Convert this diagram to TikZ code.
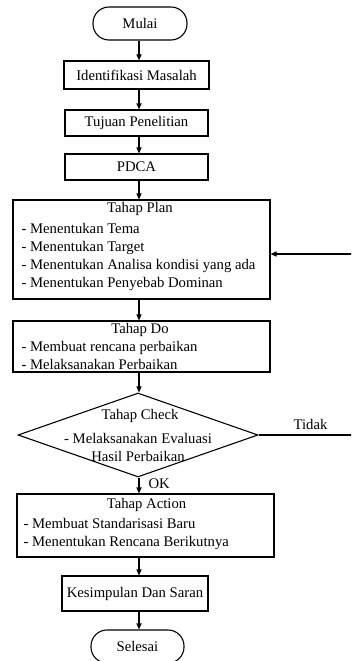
\documentclass[tikz,border=0pt]{standalone}
\usepackage{fontspec}
\setmainfont{Liberation Serif}
\usetikzlibrary{arrows.meta,calc,shapes.geometric}

\begin{document}
\begin{tikzpicture}[x=1pt,y=-1pt,line width=1.1pt,
  font=\fontsize{14.7}{18}\selectfont,
  term/.style={draw,rounded corners=16pt,minimum width=94,minimum height=33,inner sep=0pt},
  proc/.style={draw,inner sep=0pt},
  txt/.style={inner sep=0pt},
  arr/.style={-{Triangle[length=6pt,width=5pt]}}]
\useasboundingbox (0,0) rectangle (351,661);
\clip (0,0) rectangle (351,661);
\coordinate (spine) at (139,0);
\coordinate (back) at (353,254);
\node[term] (mulai) at (140,23.5) {Mulai};
\node[proc,minimum width=145,minimum height=28] (ident) at (136.5,75) {Identifikasi Masalah};
\node[proc,minimum width=143,minimum height=26] (tujuan) at (136.5,123) {Tujuan Penelitian};
\node[proc,minimum width=143,minimum height=26] (pdca) at (136.5,167) {PDCA};
\node[proc,minimum width=257,minimum height=99] (plan) at (141.5,249.5) {};
\node[txt] (plan-t) at (140,209) {Tahap Plan};
\node[txt,anchor=west,align=left] (plan-i) at (21,257) {- Menentukan Tema\\- Menentukan Target\\- Menentukan Analisa kondisi yang ada\\- Menentukan Penyebab Dominan};
\node[proc,minimum width=257,minimum height=51] (do) at (141.5,346.5) {};
\node[txt] (do-t) at (140,330) {Tahap Do};
\node[txt,anchor=west,align=left] (do-i) at (21,355.5) {- Membuat rencana perbaikan\\- Melaksanakan Perbaikan};
\node[draw,diamond,inner sep=0pt,minimum width=240,minimum height=84] (check) at (138,435) {};
\node[txt] (check-t) at (140,416) {Tahap Check};
\node[txt,align=center] (check-i) at (138,447) {- Melaksanakan Evaluasi\\Hasil Perbaikan};
\node[proc,minimum width=257,minimum height=63] (action) at (145.5,525.5) {};
\node[txt] (action-t) at (146.5,505) {Tahap Action};
\node[txt,anchor=west,align=left] (action-i) at (23,534) {- Membuat Standarisasi Baru\\- Menentukan Rencana Berikutnya};
\node[proc,minimum width=146,minimum height=35] (simpul) at (135,593.5) {Kesimpulan Dan Saran};
\node[term,minimum width=93] (selesai) at (137.5,646.5) {Selesai};
\foreach \a/\b in {mulai/ident,ident/tujuan,tujuan/pdca,pdca/plan,plan/do,do/check,action/simpul,simpul/selesai}
  \draw[arr] (\a.south -| spine) -- (\b.north -| spine);
\draw[arr] (check.south -| spine) -- node[txt,anchor=west,pos=0.4,xshift=9pt] (ok) {OK} (action.north -| spine);
\draw[arr] (check.east) -- node[txt,pos=0.55,yshift=11pt] (tidak) {Tidak} (check.east -| back) -- (back) -- (back -| plan.east);
\end{tikzpicture}
\end{document}
